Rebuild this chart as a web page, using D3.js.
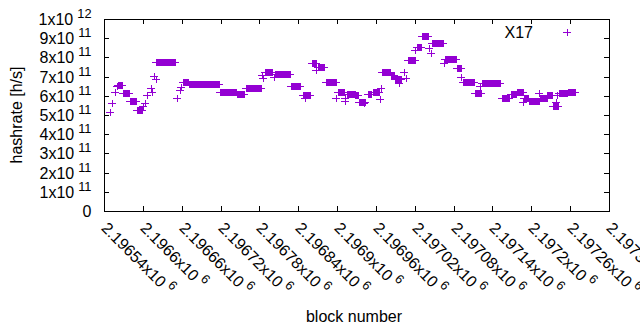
<!DOCTYPE html>
<html>
<head>
<meta charset="utf-8">
<script src="https://cdn.jsdelivr.net/npm/d3@7"></script>
<style>
  html, body { margin: 0; padding: 0; background: #fff; }
  svg { display: block; font-family: "Liberation Sans", Arial, sans-serif; }
</style>
</head>
<body>
<svg id="chart" width="640" height="330"></svg>
<script>
// ---- data (hashrate in units of 1e11 h/s; each run = consecutive blocks with same value) ----
const blockFrom = [2196549,2196553,2196557,2196560,2196561,2196570,2196580,2196591,2196601,2196603,
  2196606,2196612,2196614,2196617,2196620,2196621,2196653,2196657,2196659,2196662,
  2196672,2196719,2196746,2196759,2196784,2196785,2196788,2196803,2196804,2196829,
  2196847,2196850,2196861,2196867,2196870,2196883,2196899,2196901,2196912,2196913,
  2196916,2196928,2196934,2196941,2196947,2196955,2196967,2196968,2196970,2196983,
  2196989,2196996,2197004,2197006,2197009,2197021,2197023,2197031,2197042,2197045,
  2197047,2197065,2197066,2197085,2197092,2197095,2197113,2197121,2197124,2197154,
  2197168,2197178,2197187,2197189,2197196,2197212,2197213,2197225,2197234,2197238,
  2197239,2197243,2197256];
const blockTo = [2196549,2196553,2196557,2196560,2196568,2196579,2196590,2196599,2196601,2196603,
  2196606,2196612,2196614,2196617,2196620,2196650,2196653,2196657,2196659,2196670,
  2196718,2196744,2196757,2196783,2196784,2196785,2196800,2196803,2196828,2196842,
  2196858,2196850,2196868,2196867,2196880,2196898,2196899,2196910,2196912,2196913,
  2196927,2196932,2196943,2196941,2196953,2196964,2196967,2196968,2196982,2196988,
  2196998,2196996,2197004,2197006,2197021,2197021,2197030,2197040,2197042,2197045,
  2197064,2197065,2197083,2197091,2197092,2197111,2197123,2197121,2197152,2197166,
  2197177,2197187,2197187,2197195,2197212,2197212,2197224,2197232,2197241,2197238,
  2197239,2197255,2197268];
const hashrate = [5.17,5.60,6.21,6.51,6.58,6.13,5.71,5.24,5.45,5.60,
  6.04,6.42,6.20,7.05,6.87,7.74,5.87,6.30,6.47,6.74,
  6.60,6.22,6.08,6.39,7.08,6.91,7.26,7.00,7.12,6.49,
  6.06,5.87,7.69,7.34,7.52,6.74,5.90,6.22,5.90,5.73,
  6.08,6.02,5.69,5.60,6.08,6.18,5.83,6.42,7.22,7.07,
  6.88,6.65,7.26,6.94,7.86,8.39,8.56,9.13,8.47,8.21,
  8.73,7.69,7.90,7.43,7.00,6.70,6.16,6.51,6.65,5.90,
  6.09,6.20,5.66,5.89,5.73,6.13,5.89,6.06,5.47,5.66,
  6.04,6.13,6.20];

const seriesName = "X17";
const xTickValues = [2196540,2196600,2196660,2196720,2196780,2196840,2196900,2196960,
  2197020,2197080,2197140,2197200,2197260,2197320];
const xTickMantissa = ["2.19654x10","2.1966x10","2.19666x10","2.19672x10","2.19678x10",
  "2.19684x10","2.1969x10","2.19696x10","2.19702x10","2.19708x10","2.19714x10",
  "2.1972x10","2.19726x10","2.19732x10"];
const xTickExponent = ["6","6","6","6","6","6","6","6","6","6","6","6","6","6"];
const yTickValues = [0,1e11,2e11,3e11,4e11,5e11,6e11,7e11,8e11,9e11,1e12];
const yTickMantissa = ["0","1x10","2x10","3x10","4x10","5x10","6x10","7x10","8x10","9x10","1x10"];
const yTickExponent = ["","11","11","11","11","11","11","11","11","11","12"];
const xTitle = "block number";
const yTitle = "hashrate [h/s]";

// ---- layout ----
const L = 104, R = 609, T = 19, B = 211;
const COLOR = "#9400d3";
const FS = 16, FSE = 12.8;

const svg = d3.select("#chart");
const x = d3.scaleLinear().domain([2196540, 2197320]).rangeRound([L, R]);
const y = d3.scaleLinear().domain([0, 1e12]).rangeRound([B, T]);

// expand runs into points
const points = [];
blockFrom.forEach((b0, i) => {
  for (let b = b0; b <= blockTo[i]; b++) points.push({ block: b, value: hashrate[i] * 1e11 });
});

// axes (ticks inward, mirrored)
function styleAxis(g) {
  g.select(".domain").remove();
  g.selectAll(".tick line").attr("stroke", "#000");
}
const gLeft = svg.append("g").attr("transform", `translate(${L},0)`)
  .call(d3.axisLeft(y).tickValues(yTickValues).tickSizeInner(-5).tickSizeOuter(0).tickPadding(12.5))
  .call(styleAxis);
gLeft.selectAll(".tick text").each(function(d, i) {
  const t = d3.select(this);
  t.text(null).attr("font-size", FS).attr("font-family", "Liberation Sans, Arial, sans-serif")
    .attr("fill", "#000").attr("dy", "0.36em");
  t.append("tspan").text(yTickMantissa[i]);
  if (yTickExponent[i]) t.append("tspan").attr("dx", 4).attr("dy", -7).attr("font-size", FSE).text(yTickExponent[i]);
});
svg.append("g").attr("transform", `translate(${R},0)`)
  .call(d3.axisRight(y).tickValues(yTickValues).tickSizeInner(-5).tickSizeOuter(0).tickFormat(""))
  .call(styleAxis);
svg.append("g").attr("transform", `translate(0,${T})`)
  .call(d3.axisTop(x).tickValues(xTickValues).tickSizeInner(-5).tickSizeOuter(0).tickFormat(""))
  .call(styleAxis);
const gBottom = svg.append("g").attr("transform", `translate(0,${B})`)
  .call(d3.axisBottom(x).tickValues(xTickValues).tickSizeInner(-5).tickSizeOuter(0))
  .call(styleAxis);
gBottom.selectAll(".tick text").each(function(d, i) {
  const t = d3.select(this);
  t.text(null).attr("font-size", FS).attr("font-family", "Liberation Sans, Arial, sans-serif")
    .attr("fill", "#000").attr("text-anchor", "start")
    .attr("x", 0).attr("y", 0).attr("dy", "0.36em")
    .attr("transform", "translate(0,14) rotate(45)");
  t.append("tspan").text(xTickMantissa[i]);
  t.append("tspan").attr("dx", 4).attr("dy", -7).attr("font-size", FSE).text(xTickExponent[i]);
});

// frame
svg.append("rect").attr("x", L + 0.5).attr("y", T + 0.5).attr("width", R - L).attr("height", B - T)
  .attr("fill", "none").attr("stroke", "#000").attr("stroke-width", 1).attr("shape-rendering", "crispEdges");

// points as '+'
function cross(cx, cy) {
  return `M${cx - 4},${cy + 0.5}h8M${cx + 0.5},${cy - 3}v7`;
}
svg.append("path")
  .attr("d", points.map(p => cross(x(p.block), y(p.value))).join(""))
  .attr("fill", "none").attr("stroke", COLOR).attr("stroke-width", 1).attr("shape-rendering", "crispEdges");

// legend
svg.append("text").attr("x", 533).attr("y", 37.5).attr("text-anchor", "end")
  .attr("font-size", FS).attr("fill", "#000").text(seriesName);
svg.append("path").attr("d", cross(567, 32))
  .attr("fill", "none").attr("stroke", COLOR).attr("stroke-width", 1).attr("shape-rendering", "crispEdges");

// titles
svg.append("text").attr("x", 354).attr("y", 321.5).attr("text-anchor", "middle")
  .attr("font-size", FS).attr("fill", "#000").text(xTitle);
svg.append("text").attr("transform", "translate(21.5,115) rotate(-90)").attr("text-anchor", "middle")
  .attr("font-size", FS).attr("fill", "#000").text(yTitle);
</script>
</body>
</html>
